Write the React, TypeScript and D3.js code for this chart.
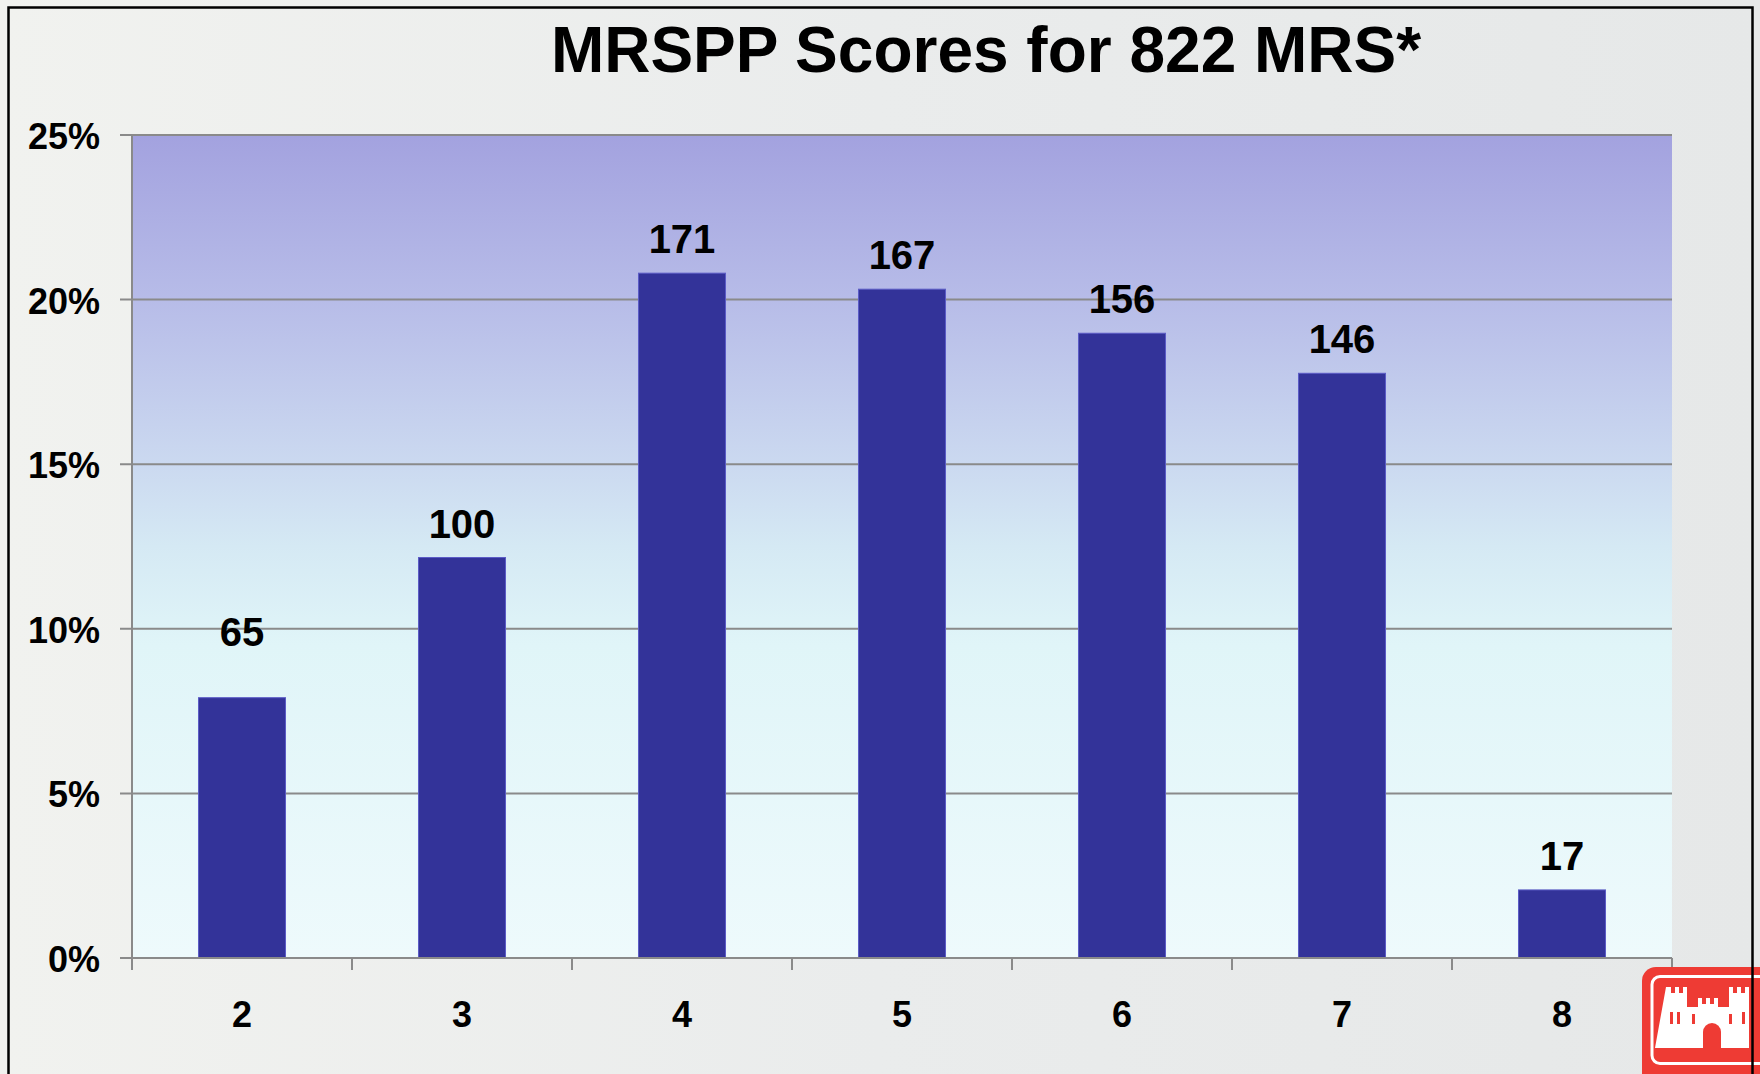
import React from "react";
import * as d3 from "d3";

const title = "MRSPP Scores for 822 MRS*";
const scores = ["2", "3", "4", "5", "6", "7", "8"];
const counts = [65, 100, 171, 167, 156, 146, 17];
const totalMRS = 822;
const yTicks = [0, 0.05, 0.1, 0.15, 0.2, 0.25];

const W = 1760;
const H = 1074;
const M = { left: 132, right: 1672, top: 135, bottom: 958 };
const FONT = "'Liberation Sans', Arial, Helvetica, sans-serif";

export default function App() {
  const x = d3
    .scaleBand<string>()
    .domain(scores)
    .range([M.left, M.right])
    .paddingInner(0.6045)
    .paddingOuter(0.30225);
  const y = d3.scaleLinear().domain([0, 0.25]).range([M.bottom, M.top]);
  const step = x.step();
  const boundaries = d3.range(scores.length + 1).map((i) => M.left + i * step);
  const data = scores.map((s, i) => ({ s, c: counts[i], v: counts[i] / totalMRS }));
  const lift = (d: { s: string }) => (d.s === "2" ? 52 : 20);

  return (
    <svg
      width={W}
      height={H}
      viewBox={`0 0 ${W} ${H}`}
      style={{ position: "absolute", left: 0, top: 0, display: "block" }}
    >
      <defs>
        <linearGradient id="plotbg" x1="0" y1="0" x2="0" y2="1">
          <stop offset="0" stopColor="#a3a2df" />
          <stop offset="0.2" stopColor="#b7bce8" />
          <stop offset="0.4" stopColor="#cbd9f0" />
          <stop offset="0.5" stopColor="#d5e9f4" />
          <stop offset="0.62" stopColor="#e0f5f8" />
          <stop offset="1" stopColor="#eefafc" />
        </linearGradient>
        <linearGradient id="pagebg" x1="0" y1="0" x2="1" y2="0">
          <stop offset="0" stopColor="#f1f2ef" />
          <stop offset="0.5" stopColor="#eaecec" />
          <stop offset="1" stopColor="#e6e8e8" />
        </linearGradient>
      </defs>

      {/* page background */}
      <rect x={0} y={0} width={W} height={H} fill="url(#pagebg)" />

      {/* title */}
      <text
        x={986}
        y={72}
        textAnchor="middle"
        fontFamily={FONT}
        fontWeight="bold"
        fontSize={64}
        fill="#000"
      >
        {title}
      </text>

      {/* plot area */}
      <rect
        x={M.left}
        y={M.top}
        width={M.right - M.left}
        height={M.bottom - M.top}
        fill="url(#plotbg)"
      />

      {/* gridlines + y ticks */}
      {yTicks.map((t) => (
        <g key={t}>
          <line
            x1={M.left - 12}
            x2={t === 0 ? M.left : M.right}
            y1={y(t)}
            y2={y(t)}
            stroke="#8a8a8a"
            strokeWidth={2}
          />
          <text
            x={100}
            y={y(t) + 14}
            textAnchor="end"
            fontFamily={FONT}
            fontWeight="bold"
            fontSize={36}
            fill="#000"
          >
            {d3.format(".0%")(t)}
          </text>
        </g>
      ))}

      {/* bars */}
      {data.map((d) => (
        <rect
          key={d.s}
          x={x(d.s)!}
          y={y(d.v)}
          width={x.bandwidth()}
          height={y(0) - y(d.v)}
          fill="#333399"
          stroke="#5c5cc6"
          strokeWidth={1}
        />
      ))}

      {/* data labels */}
      {data.map((d) => (
        <text
          key={"l" + d.s}
          x={x(d.s)! + x.bandwidth() / 2}
          y={y(d.v) - lift(d)}
          textAnchor="middle"
          fontFamily={FONT}
          fontWeight="bold"
          fontSize={40}
          fill="#000"
        >
          {d.c}
        </text>
      ))}

      {/* axes */}
      <line x1={M.left} x2={M.left} y1={M.top} y2={M.bottom + 12} stroke="#8a8a8a" strokeWidth={2} />
      <line x1={M.left - 12} x2={M.right} y1={M.bottom} y2={M.bottom} stroke="#8a8a8a" strokeWidth={2} />
      {boundaries.map((b, i) => (
        <line key={"t" + i} x1={b} x2={b} y1={M.bottom} y2={M.bottom + 12} stroke="#8a8a8a" strokeWidth={2} />
      ))}
      {scores.map((s) => (
        <text
          key={"x" + s}
          x={x(s)! + x.bandwidth() / 2}
          y={1027}
          textAnchor="middle"
          fontFamily={FONT}
          fontWeight="bold"
          fontSize={36}
          fill="#000"
        >
          {s}
        </text>
      ))}

      {/* logo */}
      <g>
        <rect x={1642} y={967} width={160} height={140} rx={14} fill="#ee3b34" />
        <rect x={1652} y={976.5} width={140} height={87} rx={8} fill="none" stroke="#fff" strokeWidth={3} />
        <path
          fill="#fff"
          d="M1666,987 h5 v6 h4 v-6 h4 v6 h4 v-6 h4 v20 h11 v-9 h4 v6 h4 v-6 h4 v6 h4 v-6 h4 v9 h11 v-20 h4 v6 h4 v-6 h4 v6 h4 v-6 h4 v61 h-94 z"
        />
        <rect x={1670} y={1012} width={3} height={12} fill="#ee3b34" />
        <rect x={1677} y={1012} width={3} height={12} fill="#ee3b34" />
        <rect x={1692} y={1014} width={3} height={10} fill="#ee3b34" />
        <rect x={1729} y={1014} width={3} height={10} fill="#ee3b34" />
        <rect x={1742} y={1012} width={3} height={12} fill="#ee3b34" />
        <rect x={1750} y={1012} width={3} height={12} fill="#ee3b34" />
        <path fill="#ee3b34" d="M1703,1048 v-16 a9,9 0 0 1 18,0 v16 z" />
      </g>

      {/* frame */}
      <rect x={8.5} y={7.5} width={1744} height={1100} fill="none" stroke="#000" strokeWidth={2.5} />
    </svg>
  );
}
